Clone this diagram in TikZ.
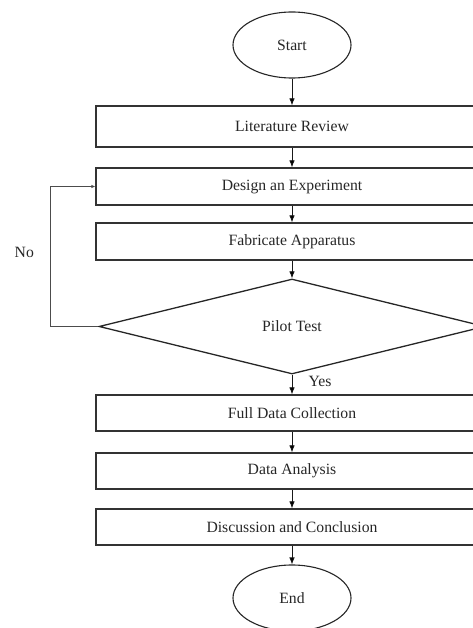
\documentclass[tikz,border=0pt]{standalone}
\usepackage{fontspec}
\setmainfont{Liberation Serif}
\usetikzlibrary{arrows.meta, shapes.geometric}

\begin{document}
\begin{tikzpicture}[x=1pt, y=-1pt,
    font=\fontsize{15.7}{18}\selectfont, text=black!85,
    stepbox/.style={draw=black!80, line width=1.3pt, minimum width=392pt, minimum height=36pt, inner sep=0pt},
    terminal/.style={ellipse, draw=black!85, line width=1.1pt, minimum width=118pt, minimum height=66pt, inner sep=0pt},
    decision/.style={diamond, draw=black!85, line width=1.3pt, minimum width=386pt, minimum height=95pt, inner sep=0pt},
    flow/.style={-{Latex[length=7pt, width=5.5pt]}, line width=0.7pt, draw=black!90},
    back/.style={-{Latex[length=4pt, width=3.5pt]}, line width=0.9pt, draw=black!70}]
    \useasboundingbox (0,0) rectangle (473,628);

    \node[terminal] (start) at (292, 45) {Start};
    \node[stepbox, minimum height=41pt] (lit) at (292, 126.5) {Literature Review};
    \node[stepbox, minimum height=37pt] (design) at (292, 186.5) {Design an Experiment};
    \node[stepbox, minimum height=37pt] (fab) at (292, 241.5) {Fabricate Apparatus};
    \node[decision] (pilot) at (292, 326.5) {Pilot Test};
    \node[stepbox] (full) at (292, 413) {Full Data Collection};
    \node[stepbox] (analysis) at (292, 471) {Data Analysis};
    \node[stepbox] (concl) at (292, 527) {Discussion and Conclusion};
    \node[terminal] (end) at (292, 598) {End};
    \coordinate (turn) at (50.7, 326.5);

    \draw[flow] (start) edge (lit)
          (lit) edge (design)
          (design) edge (fab)
          (fab) edge (pilot)
          (pilot) edge node[right, xshift=13pt, yshift=3pt]{Yes} (full)
          (full) edge (analysis)
          (analysis) edge (concl)
          (concl) edge (end)
          ;
    \draw[back] (pilot.west) -- (turn) |- node[pos=0.265, left, xshift=-13pt]{No} (design.west);
\end{tikzpicture}
\end{document}
